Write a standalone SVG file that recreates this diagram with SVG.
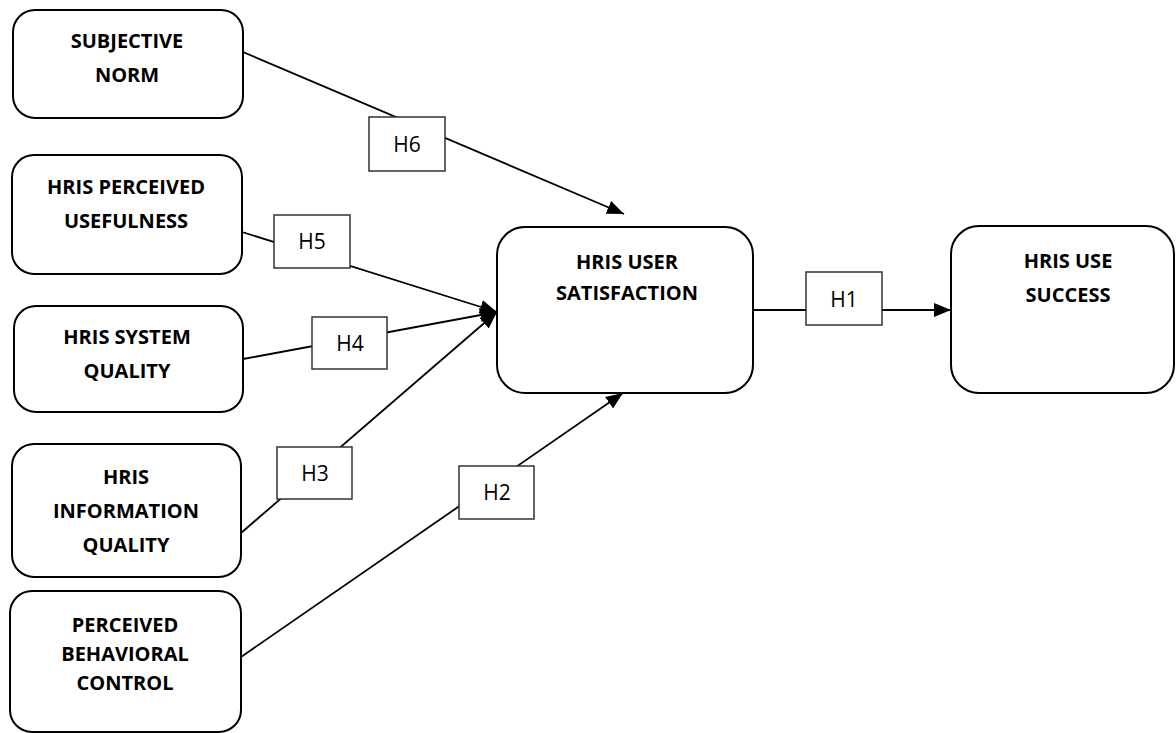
<svg xmlns="http://www.w3.org/2000/svg" width="1176" height="733" viewBox="0 0 1176 733">
<defs>
<marker id="arr" markerUnits="userSpaceOnUse" markerWidth="18" markerHeight="14" refX="17" refY="7" orient="auto">
<path d="M0,0 L17,7 L0,14 Z" fill="#000"/>
</marker>
<style>
.node{fill:#fff;stroke:#000;stroke-width:2}
.nt{font-family:"Open Sans","Liberation Sans",sans-serif;font-weight:bold;font-size:20px;text-anchor:middle;fill:#000}
.lb{fill:#fff;stroke:#333;stroke-width:1.5}
.lt{font-family:"Open Sans","Liberation Sans",sans-serif;font-size:21px;text-anchor:middle;fill:#000}
.c{stroke:#000;stroke-width:1.8;fill:none}
</style>
</defs>
<rect width="1176" height="733" fill="#fff"/>
<g id="connectors">
<line class="c" x1="243" y1="52" x2="624" y2="214" marker-end="url(#arr)"/>
<line class="c" x1="242" y1="232" x2="497" y2="312" marker-end="url(#arr)"/>
<line class="c" x1="243" y1="359" x2="497" y2="312" marker-end="url(#arr)"/>
<line class="c" x1="241" y1="533" x2="497" y2="312" marker-end="url(#arr)"/>
<line class="c" x1="241" y1="657" x2="623" y2="393" marker-end="url(#arr)"/>
<line class="c" x1="753" y1="310" x2="951" y2="310" marker-end="url(#arr)"/>
<g id="lab-h6"><rect class="lb" x="369" y="117" width="76" height="54"/><text class="lt" x="407" y="152">H6</text></g>
<g id="lab-h5"><rect class="lb" x="274" y="215" width="76" height="53"/><text class="lt" x="312" y="249">H5</text></g>
<g id="lab-h4"><rect class="lb" x="312" y="317" width="75" height="52"/><text class="lt" x="350" y="351">H4</text></g>
<g id="lab-h3"><rect class="lb" x="277" y="447" width="75" height="52"/><text class="lt" x="315" y="481">H3</text></g>
<g id="lab-h2"><rect class="lb" x="459" y="466" width="75" height="53"/><text class="lt" x="497" y="500">H2</text></g>
<g id="lab-h1"><rect class="lb" x="806" y="272" width="76" height="53"/><text class="lt" x="844" y="307">H1</text></g>
</g>
<g id="n-subjective">
<rect class="node" x="13" y="10" width="230" height="108" rx="22"/>
<text class="nt" x="127" y="48">SUBJECTIVE</text>
<text class="nt" x="127" y="82">NORM</text>
</g>
<g id="n-usefulness">
<rect class="node" x="12" y="155" width="230" height="119" rx="22"/>
<text class="nt" x="126" y="194">HRIS PERCEIVED</text>
<text class="nt" x="126" y="228">USEFULNESS</text>
</g>
<g id="n-system">
<rect class="node" x="14" y="306" width="229" height="106" rx="22"/>
<text class="nt" x="127" y="344">HRIS SYSTEM</text>
<text class="nt" x="127" y="378">QUALITY</text>
</g>
<g id="n-information">
<rect class="node" x="12" y="444" width="229" height="133" rx="22"/>
<text class="nt" x="126" y="484">HRIS</text>
<text class="nt" x="126" y="518">INFORMATION</text>
<text class="nt" x="126" y="552">QUALITY</text>
</g>
<g id="n-behavioral">
<rect class="node" x="10" y="591" width="231" height="141" rx="22"/>
<text class="nt" x="125" y="632">PERCEIVED</text>
<text class="nt" x="125" y="661">BEHAVIORAL</text>
<text class="nt" x="125" y="690">CONTROL</text>
</g>
<g id="n-satisfaction">
<rect class="node" x="497" y="227" width="256" height="166" rx="28"/>
<text class="nt" x="627" y="269">HRIS USER</text>
<text class="nt" x="627" y="300">SATISFACTION</text>
</g>
<g id="n-success">
<rect class="node" x="951" y="226" width="223" height="167" rx="28"/>
<text class="nt" x="1068" y="268">HRIS USE</text>
<text class="nt" x="1068" y="302">SUCCESS</text>
</g>
</svg>
